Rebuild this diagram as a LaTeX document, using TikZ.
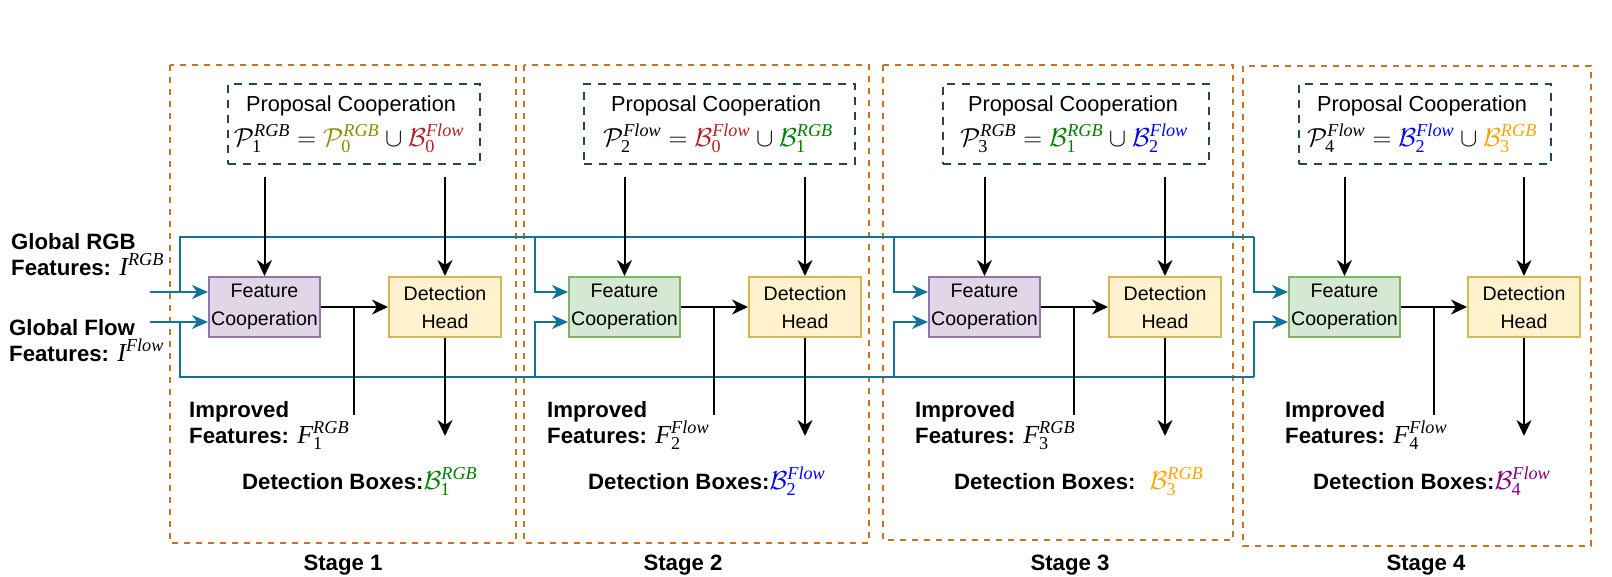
\RequirePackage{fix-cm}
\documentclass[tikz,border=0pt]{standalone}
\usepackage{amsmath}
\usepackage{fontspec}
\setmainfont{Liberation Sans}
\newfontfamily\tms{Liberation Serif}
\usetikzlibrary{arrows.meta}
\definecolor{stageC}{RGB}{200,115,30}
\definecolor{pcC}{RGB}{35,68,93}
\definecolor{blC}{RGB}{16,115,158}
\definecolor{fcPf}{RGB}{225,213,231}
\definecolor{fcPd}{RGB}{150,115,166}
\definecolor{fcGf}{RGB}{213,232,212}
\definecolor{fcGd}{RGB}{130,179,102}
\definecolor{dhf}{RGB}{255,242,204}
\definecolor{dhd}{RGB}{214,182,86}
\definecolor{olv}{RGB}{140,140,0}
\definecolor{frb}{RGB}{178,34,34}
\definecolor{grn}{RGB}{0,128,0}
\definecolor{blu}{RGB}{0,0,255}
\definecolor{org}{RGB}{255,165,0}
\definecolor{prp}{RGB}{128,0,128}
\newcommand{\lblfont}{\fontsize{22.2}{26}\selectfont\bfseries}
\newcommand{\pcfont}{\fontsize{21.7}{26}\selectfont}
\newcommand{\mathsz}{\fontsize{26}{30}\selectfont}
\newcommand{\boxfont}{\fontsize{19.6}{28}\selectfont}
\newcommand{\sI}[1]{\text{\tms\mdseries\itshape #1}}
\newcommand{\sN}[1]{\text{\tms\mdseries\upshape #1}}
\newcommand{\cmm}[3]{\mathcal{#1}_{\sN{#2}}^{\sI{#3}}}
\newcommand{\mth}[1]{{\mathsz$#1$}}
\begin{document}
\begin{tikzpicture}[x=1pt,y=-1pt,
  stagebox/.style={draw=stageC, line width=2pt, dash pattern=on 6pt off 6pt},
  pcbox/.style={draw=pcC, line width=2pt, dash pattern=on 8pt off 7pt, minimum height=80pt, inner sep=0pt},
  pctext/.style={font=\pcfont, anchor=base, inner sep=0pt},
  pcform/.style={font=\mathsz, anchor=base, inner sep=0pt},
  fcbox/.style={rectangle, line width=2pt, minimum width=111pt, minimum height=60pt, align=center, font=\boxfont, inner sep=0pt},
  fcP/.style={fcbox, fill=fcPf, draw=fcPd},
  fcG/.style={fcbox, fill=fcGf, draw=fcGd},
  dhbox/.style={fcbox, fill=dhf, draw=dhd, minimum width=112pt},
  arr/.style={-{Stealth[length=16pt,width=15pt,inset=5pt]}, line width=2pt, black},
  blkline/.style={line width=2pt, black},
  blarr/.style={-{Stealth[length=16pt,width=14pt,inset=5pt]}, line width=2pt, blC},
  blline/.style={line width=2pt, blC},
  lbl/.style={font=\lblfont, anchor=base west, inner sep=0pt},
  stagelbl/.style={font=\lblfont, anchor=base, inner sep=0pt}]
\useasboundingbox (0,0) rectangle (1612,576);

% stage frames
\draw[stagebox] (170,65) rectangle (516,543);
\draw[stagebox] (524,65) rectangle (869,543);
\draw[stagebox] (883,65) rectangle (1233,540);
\draw[stagebox] (1243,66) rectangle (1591,546);

% proposal cooperation boxes
\node[pcbox, minimum width=252pt] (pc1) at (354,124) {};
\node[pcbox, minimum width=271pt] (pc2) at (719.5,124) {};
\node[pcbox, minimum width=266pt] (pc3) at (1076,124) {};
\node[pcbox, minimum width=252pt] (pc4) at (1425,124) {};
\node[pctext] (pct1) at (351,111) {Proposal Cooperation};
\node[pctext] (pct2) at (716,111) {Proposal Cooperation};
\node[pctext] (pct3) at (1073,111) {Proposal Cooperation};
\node[pctext] (pct4) at (1422,111) {Proposal Cooperation};
\node[pcform] (pcf1) at (349,146) {$\cmm{P}{1}{RGB} = \textcolor{olv}{\cmm{P}{0}{RGB}} \cup \textcolor{frb}{\cmm{B}{0}{Flow}}$};
\node[pcform] (pcf2) at (718,146) {$\cmm{P}{2}{Flow} = \textcolor{frb}{\cmm{B}{0}{Flow}} \cup \textcolor{grn}{\cmm{B}{1}{RGB}}$};
\node[pcform] (pcf3) at (1074,146) {$\cmm{P}{3}{RGB} = \textcolor{grn}{\cmm{B}{1}{RGB}} \cup \textcolor{blu}{\cmm{B}{2}{Flow}}$};
\node[pcform] (pcf4) at (1422,146) {$\cmm{P}{4}{Flow} = \textcolor{blu}{\cmm{B}{2}{Flow}} \cup \textcolor{org}{\cmm{B}{3}{RGB}}$};

% feature cooperation and detection heads
\node[fcP] (fc1) at (264.5,307) {Feature\\Cooperation};
\node[fcG] (fc2) at (624.5,307) {Feature\\Cooperation};
\node[fcP] (fc3) at (984.5,307) {Feature\\Cooperation};
\node[fcG] (fc4) at (1344.5,307) {Feature\\Cooperation};
\node[dhbox] (dh1) at (445,307) {Detection\\Head};
\node[dhbox] (dh2) at (805,307) {Detection\\Head};
\node[dhbox] (dh3) at (1165,307) {Detection\\Head};
\node[dhbox] (dh4) at (1524,307) {Detection\\Head};

% blue global feature lines
\coordinate (in1) at (150,292);
\coordinate (in2) at (150,322);
\draw[blarr] (in1) -- ([yshift=15pt]fc1.west);
\draw[blarr] (in2) -- ([yshift=-15pt]fc1.west);
\draw[blline] (180,292) -- (180,237) -- (1254,237);
\draw[blline] (180,322) -- (180,377) -- (1254,377);
\foreach \i/\xv in {2/535,3/894,4/1254}{
  \draw[blarr] (\xv,237) |- ([yshift=15pt]fc\i.west);
  \draw[blarr] (\xv,377) |- ([yshift=-15pt]fc\i.west);
}

% black connectors
\foreach \i in {1,2,3,4}{
  \draw[arr, shorten <=12pt] (pc\i.south -| fc\i.north) -- (fc\i.north);
  \draw[arr, shorten <=12pt] (pc\i.south -| dh\i.north) -- (dh\i.north);
  \draw[arr] (fc\i.east) -- (dh\i.west);
  \coordinate (br\i) at ([xshift=33pt]fc\i.east);
  \coordinate (bre\i) at ([xshift=33pt,yshift=-108pt]fc\i.east);
  \draw[blkline] (br\i) -- (bre\i);
  \coordinate (out\i) at ([yshift=-98pt]dh\i.south);
  \draw[arr] (dh\i.south) -- (out\i);
}

% left labels
\node[lbl] (g1) at (11,249) {Global RGB};
\node[lbl] (g2) at (11,275) {Features: \mth{\sI{I}^{\sI{RGB}}}};
\node[lbl] (g3) at (9,335) {Global Flow};
\node[lbl] (g4) at (9,361) {Features: \mth{\sI{I}^{\sI{Flow}}}};

% improved features
\node[lbl] (if1a) at (189,417) {Improved};
\node[lbl] (if1b) at (189,443) {Features: \mth{\sI{F}_{\sN{1}}^{\sI{RGB}}}};
\node[lbl] (if2a) at (547,417) {Improved};
\node[lbl] (if2b) at (547,443) {Features: \mth{\sI{F}_{\sN{2}}^{\sI{Flow}}}};
\node[lbl] (if3a) at (915,417) {Improved};
\node[lbl] (if3b) at (915,443) {Features: \mth{\sI{F}_{\sN{3}}^{\sI{RGB}}}};
\node[lbl] (if4a) at (1285,417) {Improved};
\node[lbl] (if4b) at (1285,443) {Features: \mth{\sI{F}_{\sN{4}}^{\sI{Flow}}}};

% detection boxes
\node[lbl] (db1) at (242,489) {Detection Boxes:\mth{\textcolor{grn}{\cmm{B}{1}{RGB}}}};
\node[lbl] (db2) at (588,489) {Detection Boxes:\mth{\textcolor{blu}{\cmm{B}{2}{Flow}}}};
\node[lbl] (db3) at (954,489) {Detection Boxes:\hspace{14pt}\mth{\textcolor{org}{\cmm{B}{3}{RGB}}}};
\node[lbl] (db4) at (1313,489) {Detection Boxes:\mth{\textcolor{prp}{\cmm{B}{4}{Flow}}}};

% stage labels
\node[stagelbl] (s1) at (343,570) {Stage 1};
\node[stagelbl] (s2) at (683,570) {Stage 2};
\node[stagelbl] (s3) at (1070,570) {Stage 3};
\node[stagelbl] (s4) at (1426,570) {Stage 4};
\end{tikzpicture}
\end{document}
